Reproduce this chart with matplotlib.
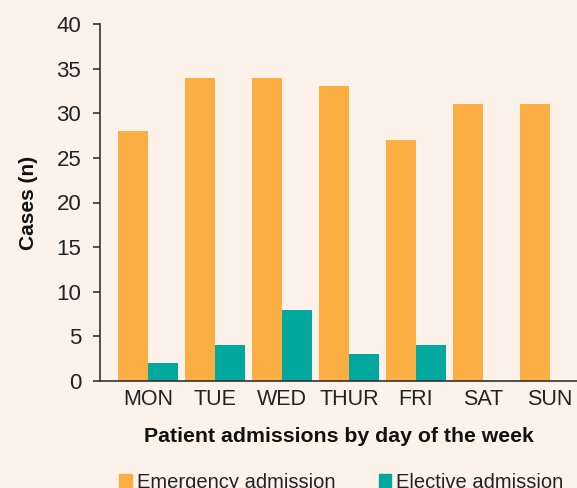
import numpy as np
import matplotlib
matplotlib.use('Agg')
import matplotlib.pyplot as plt
from matplotlib.patches import Patch

# Данные
days = ['MON', 'TUE', 'WED', 'THUR', 'FRI', 'SAT', 'SUN']
emergency = [28, 34, 34, 33, 27, 31, 31]
elective = [2, 4, 8, 3, 4, 0, 0]
yticks = [0, 5, 10, 15, 20, 25, 30, 35, 40]

bg = '#fcf2ea'
orange = '#fbae42'
teal = '#00a89d'
txt = '#222222'

plt.rcParams['font.family'] = ['Liberation Sans', 'DejaVu Sans']

fig = plt.figure(figsize=(5.77, 4.88), dpi=100, facecolor=bg)
ax = fig.add_axes([100 / 577, 1 - 381 / 488, 1 - 100 / 577, (381 - 24) / 488])
ax.set_facecolor(bg)

x = np.arange(len(days))
w = 0.448
ax.bar(x - w / 2, emergency, width=w, color=orange, label='Emergency admission')
ax.bar(x + w / 2, elective, width=w, color=teal, label='Elective admission')

ax.set_xlim(-0.716, 6.403)
ax.set_ylim(0, 40)
ax.set_yticks(yticks)
ax.set_xticks(x)
ax.set_xticklabels(days)

for s in ['top', 'right']:
    ax.spines[s].set_visible(False)
for s in ['left', 'bottom']:
    ax.spines[s].set_color('#333333')
    ax.spines[s].set_linewidth(1.2)

ax.tick_params(axis='y', length=5, width=1.2, color='#333333', pad=8.5,
               labelsize=16, labelcolor=txt)
ax.tick_params(axis='x', length=0, pad=6, labelsize=15.5, labelcolor=txt)

ax.set_xlabel('Patient admissions by day of the week', fontsize=15.3,
              fontweight='bold', color='#111111', labelpad=12)
ax.set_ylabel('Cases (n)', fontsize=15, fontweight='bold', color='#111111')
ax.yaxis.set_label_coords(-0.131, 0.5)

handles = [Patch(color=orange), Patch(color=teal)]
fig.legend(handles, ['Emergency admission', 'Elective admission'], ncol=2,
           loc='center', bbox_to_anchor=(0.592, 0.012), frameon=False,
           fontsize=14.5, handlelength=0.6, handleheight=0.6,
           handletextpad=0.25, columnspacing=2.2, labelcolor=txt)

fig.savefig('out.png', dpi=100, facecolor=bg)
